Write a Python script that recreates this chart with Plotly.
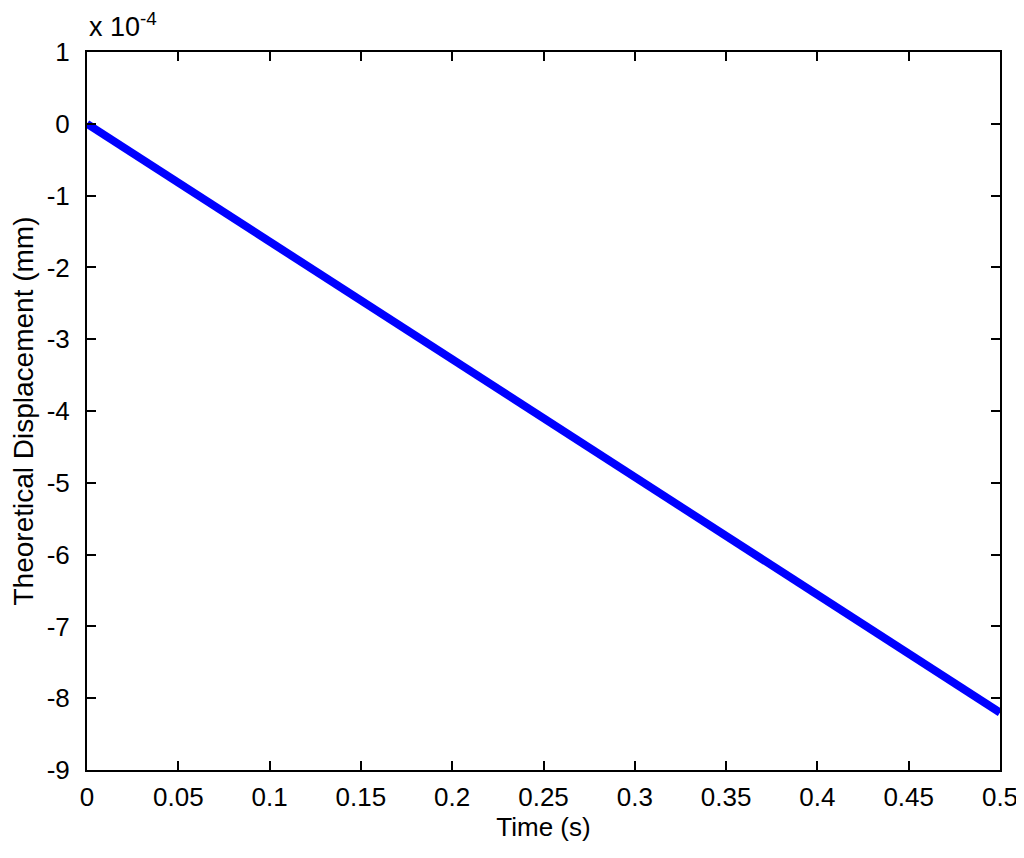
import plotly.graph_objects as go

# Time samples (s) and displacement (units of 1e-4 mm)
time_s = [0, 0.05, 0.1, 0.15, 0.2, 0.25, 0.3, 0.35, 0.4, 0.45, 0.5]
disp_e4 = [0, -0.82, -1.64, -2.46, -3.28, -4.10, -4.92, -5.74, -6.56, -7.38, -8.20]

x_ticks = [0, 0.05, 0.1, 0.15, 0.2, 0.25, 0.3, 0.35, 0.4, 0.45, 0.5]
x_labels = ["0", "0.05", "0.1", "0.15", "0.2", "0.25", "0.3", "0.35", "0.4", "0.45", "0.5"]
y_ticks = [1, 0, -1, -2, -3, -4, -5, -6, -7, -8, -9]

FONT = "Liberation Sans, Arial, sans-serif"

fig = go.Figure(go.Scatter(
    x=time_s,
    y=disp_e4,
    mode="lines",
    line=dict(color="#0000ff", width=8),
    showlegend=False,
))

axis_common = dict(
    showline=True,
    linecolor="black",
    linewidth=2,
    mirror="ticks",
    ticks="inside",
    ticklen=9,
    tickwidth=1.5,
    tickcolor="black",
    showgrid=False,
    zeroline=False,
    automargin=False,
    tickfont=dict(family=FONT, size=26, color="black"),
)

fig.update_xaxes(
    range=[0, 0.5],
    tickvals=x_ticks,
    ticktext=x_labels,
    title=dict(text="Time (s)", font=dict(family=FONT, size=26, color="black"), standoff=4),
    ticklabelstandoff=3,
    **axis_common,
)
fig.update_yaxes(
    range=[-9, 1],
    tickvals=y_ticks,
    ticktext=[str(v) for v in y_ticks],
    title=dict(text="Theoretical Displacement (mm)", font=dict(family=FONT, size=28, color="black"), standoff=6),
    ticklabelstandoff=10,
    **axis_common,
)

# MATLAB-style exponent label above the y axis
fig.add_annotation(
    text="x 10<sup>-4</sup>",
    xref="paper", yref="paper",
    x=0, y=1.0,
    xanchor="left", yanchor="bottom",
    yshift=8,
    showarrow=False,
    font=dict(family=FONT, size=27, color="black"),
)

# page body adds an 8px offset, so margins are trimmed to land the axes where the reference has them
fig.update_layout(
    width=1024,
    height=858,
    paper_bgcolor="white",
    plot_bgcolor="white",
    margin=dict(l=79, r=32, t=44, b=96),
)

fig.write_html("out.html")
